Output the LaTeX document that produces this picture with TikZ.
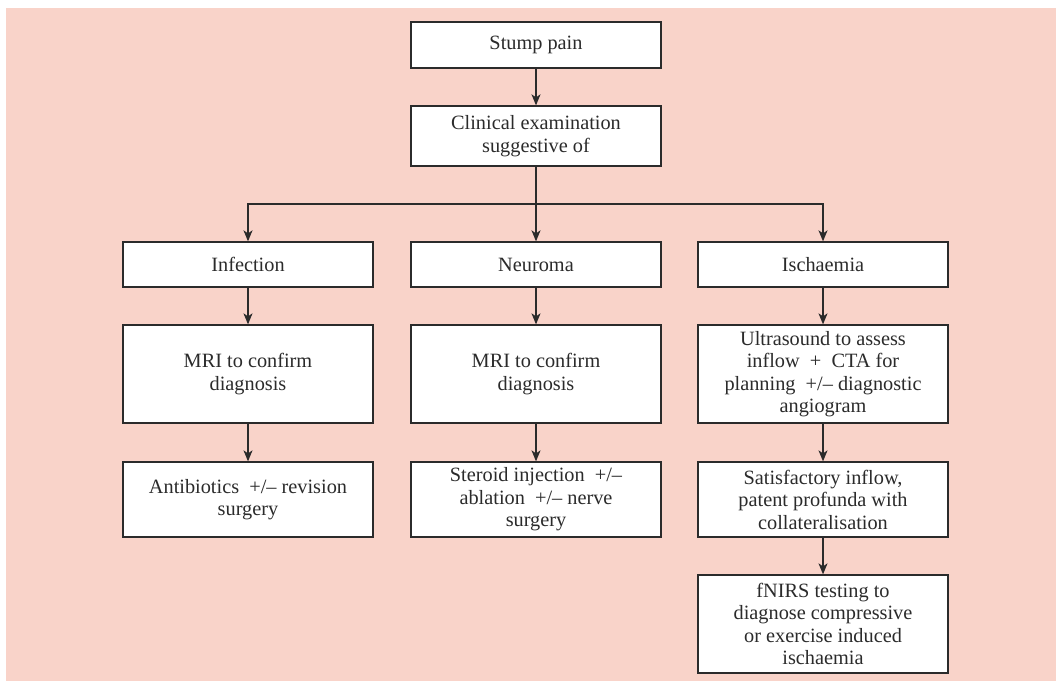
\documentclass[tikz,border=0pt]{standalone}
\usepackage{fontspec}
\setmainfont{Liberation Serif}
\usetikzlibrary{arrows.meta}
\definecolor{bgpink}{HTML}{F9D3C9}
\definecolor{ink}{HTML}{2B2B2B}
\begin{document}
\begin{tikzpicture}[x=1pt,y=-1pt,
  box/.style={draw=ink, line width=1.3pt, fill=white, text=ink, minimum width=250pt,
    align=center, inner sep=0pt, font=\fontsize{20.3pt}{22.5pt}\selectfont},
  conn/.style={draw=ink, line width=1.3pt, -{Stealth[length=11pt,width=9pt,inset=3pt]}},
  plain/.style={draw=ink, line width=1.3pt}]
\useasboundingbox (0,0) rectangle (1056,681);
\fill[bgpink] (6,8) rectangle (1056,681);

\node[box, minimum height=46pt] (stump) at (536,45) {Stump pain};
\node[box, minimum height=60pt] (clin) at (536,136) {Clinical examination\\suggestive of};
\coordinate (split) at (536,204);

\node[box, minimum height=45pt] (inf) at (248,264.5) {Infection};
\node[box, minimum height=45pt] (neu) at (536,264.5) {Neuroma};
\node[box, minimum height=45pt] (isc) at (823,264.5) {Ischaemia};

\node[box, minimum height=98pt] (mri1) at (248,374) {MRI to confirm\\diagnosis};
\node[box, minimum height=98pt] (mri2) at (536,374) {MRI to confirm\\diagnosis};
\node[box, minimum height=98pt] (us) at (823,374) {Ultrasound to assess\\inflow\enspace+\enspace CTA for\\planning\enspace+/– diagnostic\\angiogram};

\node[box, minimum height=75pt] (anti) at (248,499.5) {Antibiotics\enspace+/– revision\\surgery};
\node[box, minimum height=75pt] (ster) at (536,499.5) {Steroid injection\enspace+/–\\ablation\enspace+/– nerve\\surgery};
\node[box, minimum height=75pt] (sat) at (823,499.5) {Satisfactory inflow,\\patent profunda with\\collateralisation};

\node[box, minimum height=98pt] (fn) at (823,624) {fNIRS testing to\\diagnose compressive\\or exercise induced\\ischaemia};

\draw[conn] (stump) -- (clin);
\draw[plain] (clin.south) -- (split);
\draw[conn] (split) -| (inf.north);
\draw[conn] (split) -- (neu.north);
\draw[conn] (split) -| (isc.north);
\draw[conn] (inf) -- (mri1);
\draw[conn] (neu) -- (mri2);
\draw[conn] (isc) -- (us);
\draw[conn] (mri1) -- (anti);
\draw[conn] (mri2) -- (ster);
\draw[conn] (us) -- (sat);
\draw[conn] (sat) -- (fn);
\end{tikzpicture}
\end{document}
